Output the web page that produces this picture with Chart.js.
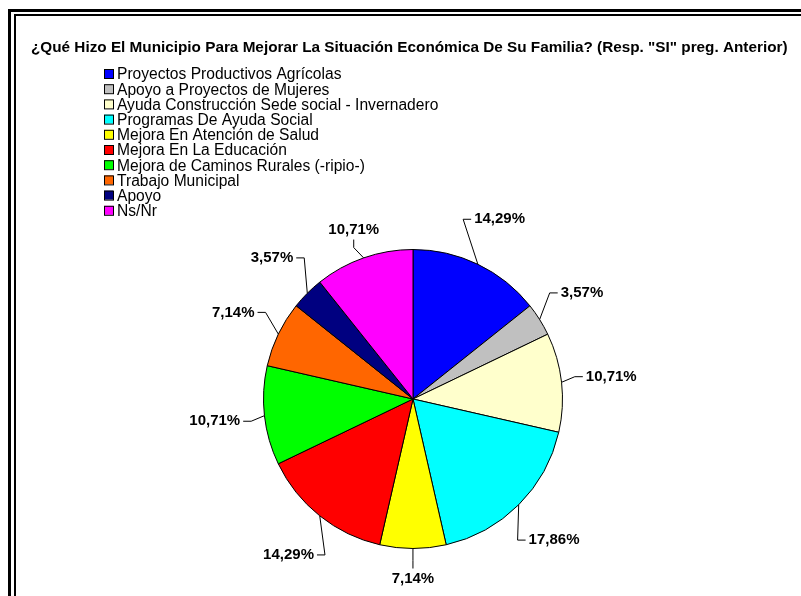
<!DOCTYPE html>
<html lang="es">
<head>
    <meta charset="UTF-8">
    <title>Mejoras Municipio</title>
    <script src="https://cdn.jsdelivr.net/npm/chart.js@4.4.0/dist/chart.umd.min.js"></script>
    <style>
        html, body { margin: 0; padding: 0; background: #fff; overflow: hidden; }
        .frame-outer { position: absolute; left: 8px; top: 9px; width: 900px; height: 700px; border: 3px solid #000; }
        .frame-inner { position: absolute; left: 14px; top: 14px; width: 900px; height: 700px; border: 2px solid #000; }
        #pieChart { position: absolute; left: 0; top: 0; }
    </style>
</head>
<body>
    <div class="frame-outer"></div>
    <div class="frame-inner"></div>
    <canvas id="pieChart" width="801" height="596"></canvas>

<script>
    // data (clockwise from 12 o'clock)
    const titleText = '¿Qué Hizo El Municipio Para Mejorar La Situación Económica De Su Familia? (Resp. "SI" preg. Anterior)';
    const categories = [
        "Proyectos Productivos Agrícolas",
        "Apoyo a Proyectos de Mujeres",
        "Ayuda Construcción Sede social - Invernadero",
        "Programas De Ayuda Social",
        "Mejora En Atención de Salud",
        "Mejora En La Educación",
        "Mejora de Caminos Rurales (-ripio-)",
        "Trabajo Municipal",
        "Apoyo",
        "Ns/Nr"
    ];
    const values = [14.29, 3.57, 10.71, 17.86, 7.14, 14.29, 10.71, 7.14, 3.57, 10.71];
    const colors = ["#0000FF", "#C0C0C0", "#FFFFCC", "#00FFFF", "#FFFF00",
                    "#FF0000", "#00FF00", "#FF6600", "#000080", "#FF00FF"];

    const FONT = '"Liberation Sans", Arial, sans-serif';

    function pctText(v) {
        return v.toFixed(2).replace(".", ",") + "%";
    }

    // title + legend drawn in the upper-left like the original sheet
    const headerPlugin = {
        id: "header",
        afterDraw(chart) {
            const ctx = chart.ctx;
            ctx.save();
            ctx.fillStyle = "#000";
            ctx.textBaseline = "middle";
            ctx.textAlign = "left";
            ctx.font = "bold 15.3px " + FONT;
            ctx.fillText(titleText, 31, 48);

            ctx.font = "15.6px " + FONT;
            categories.forEach((name, i) => {
                const y = 74 + i * 15.2;
                ctx.fillStyle = colors[i];
                ctx.fillRect(104, y - 5, 9, 9);
                ctx.strokeStyle = "#000";
                ctx.lineWidth = 1;
                ctx.strokeRect(104.5, y - 4.5, 9, 9);
                ctx.fillStyle = "#000";
                ctx.fillText(name, 117, y + 1);
            });
            ctx.restore();
        }
    };

    // percentage labels outside the pie with leader lines
    const outLabels = {
        id: "outLabels",
        afterDatasetsDraw(chart) {
            const ctx = chart.ctx;
            const meta = chart.getDatasetMeta(0);
            ctx.save();
            ctx.font = "bold 15px " + FONT;
            ctx.fillStyle = "#000";
            ctx.strokeStyle = "#000";
            ctx.lineWidth = 1;
            ctx.textBaseline = "middle";
            meta.data.forEach((arc, i) => {
                const mid = (arc.startAngle + arc.endAngle) / 2;
                const dx = Math.cos(mid), dy = Math.sin(mid);
                const r = arc.outerRadius;
                const txt = pctText(values[i]);
                const w = ctx.measureText(txt).width;
                const p0 = { x: arc.x + dx * r, y: arc.y + dy * r };
                let end, elbow, tx, ty, align;
                const vertical = Math.abs(dx) < 0.2 || (dx < 0 && dy < -0.85);
                if (vertical) {
                    const R = r + 30;
                    const s = dy > 0 ? 1 : -1;
                    tx = arc.x + dx * R;
                    ty = arc.y + dy * R;
                    end = { x: tx, y: ty - s * 10 };
                    elbow = { x: tx, y: end.y - s * 8 };
                    align = "center";
                } else {
                    const R = r + 50;
                    const s = dx > 0 ? 1 : -1;
                    const cx = arc.x + dx * R;
                    ty = arc.y + dy * R;
                    tx = cx - s * w / 2;
                    end = { x: tx - s * 3, y: ty };
                    elbow = { x: end.x - s * 8, y: ty };
                    align = s > 0 ? "left" : "right";
                }
                ctx.beginPath();
                ctx.moveTo(p0.x, p0.y);
                ctx.lineTo(elbow.x, elbow.y);
                ctx.lineTo(end.x, end.y);
                ctx.stroke();
                ctx.textAlign = align;
                ctx.fillText(txt, tx, ty);
            });
            ctx.restore();
        }
    };

    new Chart(document.getElementById("pieChart"), {
        type: "pie",
        data: {
            labels: categories,
            datasets: [{
                data: values,
                backgroundColor: colors,
                borderColor: "#000",
                borderWidth: 1
            }]
        },
        options: {
            responsive: false,
            animation: false,
            layout: { padding: { left: 263, top: 249, right: 238, bottom: 47 } },
            plugins: {
                legend: { display: false },
                title: { display: false },
                tooltip: { enabled: false }
            }
        },
        plugins: [outLabels, headerPlugin]
    });
</script>
</body>
</html>
